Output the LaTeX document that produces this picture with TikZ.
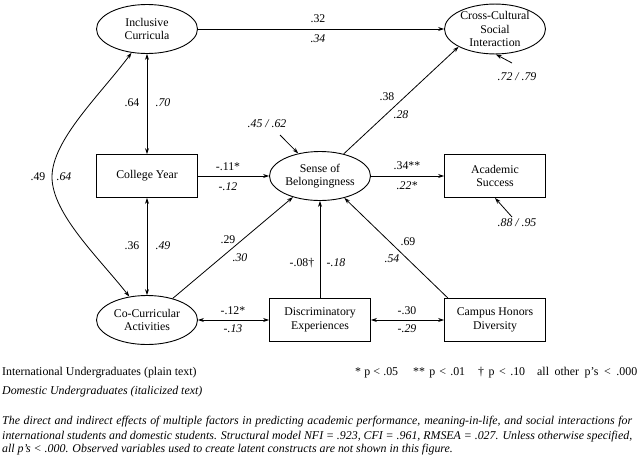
\documentclass[tikz,border=0pt]{standalone}
\usepackage{fontspec}
\setmainfont{Liberation Serif}
\usetikzlibrary{shapes.geometric,arrows.meta}
\begin{document}
\begin{tikzpicture}[x=1pt,y=-1pt,
  every node/.style={font=\fontsize{11.8}{13.5}\selectfont},
  ell/.style={draw,line width=0.9pt,ellipse,minimum width=101pt,minimum height=49pt,inner sep=0pt,align=center},
  obs/.style={draw,line width=0.9pt,rectangle,minimum width=101pt,minimum height=43pt,inner sep=0pt,align=center},
  arr/.style={line width=0.8pt,-{Stealth[length=6pt,width=4pt]}},
  darr/.style={line width=0.8pt,{Stealth[length=6pt,width=4pt]}-{Stealth[length=6pt,width=4pt]}},
  lab/.style={inner sep=0pt},
  ilab/.style={inner sep=0pt,font=\fontsize{11.8}{13.5}\selectfont\itshape},
  leg/.style={inner sep=0pt,anchor=base west,font=\fontsize{11.9}{13}\selectfont},
  ileg/.style={leg,font=\fontsize{11.9}{13}\selectfont\itshape}
]
\useasboundingbox (0,0) rectangle (640,456);

% nodes
\node[ell] (IC) at (147,29) {Inclusive\\Curricula};
\node[ell] (CC) at (495,29) {Cross-Cultural\\Social\\Interaction};
\node[obs] (CY) at (147,176) {College Year};
\node[ell] (SoB) at (320,176) {Sense of\\Belongingness};
\node[obs] (AS) at (495,176) {Academic\\Success};
\node[ell] (CoC) at (147,320) {Co-Curricular\\Activities};
\node[obs] (DE) at (320,320) {Discriminatory\\Experiences};
\node[obs] (CHD) at (495,320) {Campus Honors\\Diversity};

% residual sources
\coordinate (r1) at (512,63);
\coordinate (r2) at (512,217);
\coordinate (r3) at (280,135);

% connectors
\draw[arr] (IC.east) -- (CC.west);
\draw[arr] (SoB.43) -- (CC.206);
\draw[arr] (CY.east) -- (SoB.west);
\draw[arr] (SoB.east) -- (AS.west);
\draw[arr] (CoC.40) -- (SoB.218);
\draw[arr] (DE.north) -- (SoB.south);
\draw[arr] (CHD.155) -- (SoB.318);
\draw[darr] (CoC.east) -- (DE.west);
\draw[darr] (DE.east) -- (CHD.west);
\draw[darr] (IC.south) -- (CY.north);
\draw[darr] (CY.south) -- (CoC.north);
\draw[darr] (IC.237) .. controls (100,95) and (52,140) .. (52,177) .. controls (52,214) and (100,259) .. (CoC.127);
\draw[arr] (r1) -- (CC.272);
\draw[arr] (r2) -- (AS.south);
\draw[arr] (r3) -- (SoB.134);

% labels
\node[lab] (l1) at (318,19) {.32};
\node[ilab] (l1i) at (318,39) {.34};
\node[lab] (l2) at (387,97) {.38};
\node[ilab] (l2i) at (401,115) {.28};
\node[ilab] (rr1) at (517,77) {.72 / .79};
\node[ilab] (rr3) at (267,124) {.45 / .62};
\node[lab] (l3) at (228,167) {-.11*};
\node[ilab] (l3i) at (228,187) {-.12};
\node[lab] (l4) at (407,166) {.34**};
\node[ilab] (l4i) at (407,186) {.22*};
\node[ilab] (rr2) at (517,223) {.88 / .95};
\node[lab] (l5) at (132,103) {.64};
\node[ilab] (l5i) at (163,103) {.70};
\node[lab] (l6) at (132,246) {.36};
\node[ilab] (l6i) at (163,246) {.49};
\node[lab] (l7) at (38,177) {.49};
\node[ilab] (l7i) at (64,177) {.64};
\node[lab] (l8) at (228,240) {.29};
\node[ilab] (l8i) at (240,258) {.30};
\node[lab] (l9) at (302,263) {-.08\textdagger};
\node[ilab] (l9i) at (336,263) {-.18};
\node[lab] (l10) at (408,242) {.69};
\node[ilab] (l10i) at (392,259) {.54};
\node[lab] (l11) at (233,311) {-.12*};
\node[ilab] (l11i) at (233,329) {-.13};
\node[lab] (l12) at (407,311) {-.30};
\node[ilab] (l12i) at (407,329) {-.29};

% legend
\node[leg] (g1) at (2,375) {International Undergraduates (plain text)};
\node[ileg] (g2) at (2,394) {Domestic Undergraduates (italicized text)};
\node[leg] (g3) at (355,375) {\makebox[43pt][s]{* p {\textless} .05}};
\node[leg] (g4) at (413,375) {\makebox[52pt][s]{** p {\textless} .01}};
\node[leg] (g5) at (478,375) {\makebox[47pt][s]{\textdagger\ p {\textless} .10}};
\node[leg] (g6) at (537,375) {\makebox[100pt][s]{all other p's {\textless} .000}};
\node[ileg] (c1) at (2,424) {\makebox[630pt][s]{The direct and indirect effects of multiple factors in predicting academic performance, meaning-in-life, and social interactions for}};
\node[ileg] (c2) at (2,439) {\makebox[630pt][s]{international students and domestic students. Structural model NFI = .923, CFI = .961, RMSEA = .027. Unless otherwise specified,}};
\node[ileg] (c3) at (2,452) {all p's {\textless} .000. Observed variables used to create latent constructs are not shown in this figure.};
\end{tikzpicture}
\end{document}
